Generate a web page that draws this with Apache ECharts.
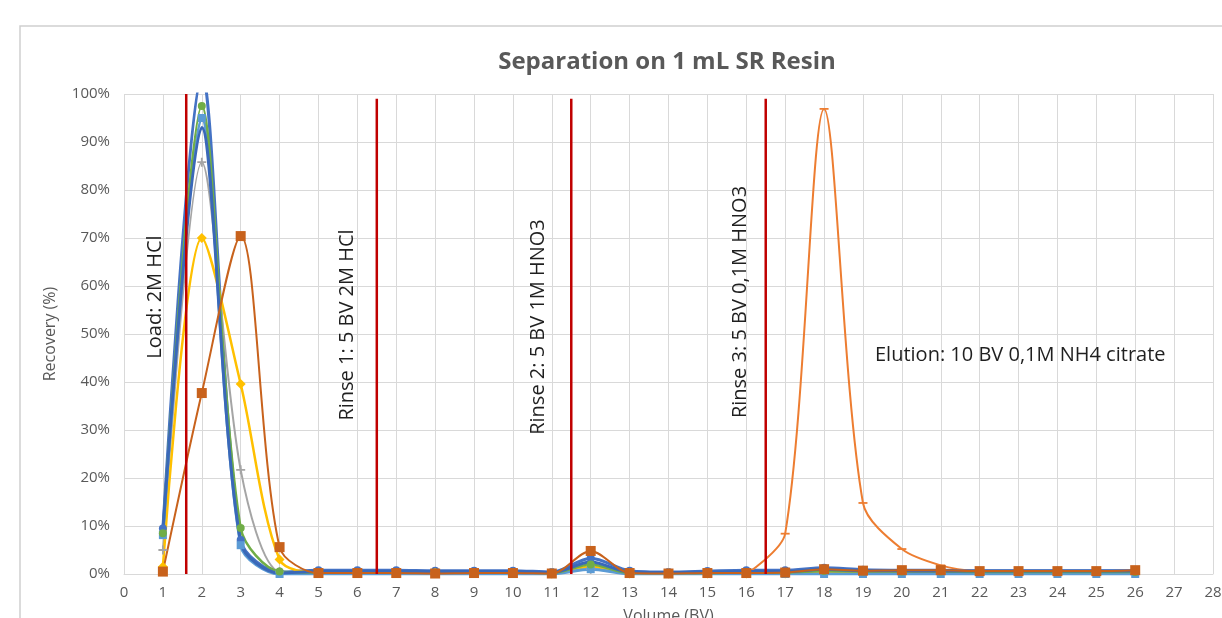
<!DOCTYPE html>
<html lang="en">
<head>
    <meta charset="UTF-8">
    <title>Separation on 1 mL SR Resin</title>
    <script src="https://cdn.jsdelivr.net/npm/echarts@6/dist/echarts.min.js"></script>
    <style>
        html, body { margin: 0; padding: 0; background: #fff; }
        #chart { width: 1222px; height: 618px; }
    </style>
</head>
<body>
    <div id="chart"></div>
    <script>
    // volume (BV) of each fraction
    var volume = [1, 2, 3, 4, 5, 6, 7, 8, 9, 10, 11, 12, 13, 14, 15, 16, 17, 18, 19, 20, 21, 22, 23, 24, 25, 26];

    // recovery (%) per element
    var blueA   = [9.5, 104, 7.1, 0.4, 0.8, 0.8, 0.8, 0.7, 0.7, 0.7, 0.4, 3.3, 0.7, 0.4, 0.6, 0.8, 0.8, 1.3, 0.9, 0.8, 0.8, 0.7, 0.7, 0.7, 0.7, 0.7];
    var elution = [null, null, null, null, null, null, null, null, null, null, null, null, null, null, null, 0, 8.4, 96.9, 14.8, 5.2, 1.8, 0.5, 0.3, 0.3, 0.3, 0.3];
    var grey    = [5, 85.8, 21.7, 0.5, 0.3, 0.3, 0.3, 0.3, 0.3, 0.3, 0.2, 1, 0.2, 0.2, 0.2, 0.2, 0.2, 0.4, 0.3, 0.3, 0.3, 0.3, 0.3, 0.3, 0.3, 0.3];
    var gold    = [1.5, 70, 39.6, 3, 0.2, 0.2, 0.2, 0.2, 0.2, 0.2, 0.1, 1.5, 0.1, 0.1, 0.1, 0.1, 0.1, 0.2, 0.2, 0.2, 0.2, 0.2, 0.2, 0.2, 0.2, 0.2];
    var lightBl = [8.1, 95, 6, 0, 0, 0, 0, 0, 0, 0, 0, 1, 0, 0, 0, 0, 0, 0, 0, 0, 0, 0, 0, 0, 0, 0];
    var green   = [8.5, 97.5, 9.6, 0.5, 0.3, 0.3, 0.3, 0.3, 0.3, 0.3, 0.2, 2, 0.2, 0.2, 0.2, 0.3, 0.3, 0.6, 0.5, 0.5, 0.5, 0.4, 0.4, 0.4, 0.4, 0.4];
    var blueB   = [9, 93, 6.5, 0.2, 0.5, 0.5, 0.5, 0.5, 0.5, 0.5, 0.3, 2.5, 0.4, 0.3, 0.4, 0.5, 0.5, 1, 0.7, 0.7, 0.6, 0.6, 0.6, 0.6, 0.6, 0.6];
    var brown   = [0.5, 37.7, 70.4, 5.6, 0.2, 0.2, 0.2, 0.1, 0.2, 0.2, 0.1, 4.8, 0.2, 0.1, 0.2, 0.2, 0.3, 1, 0.7, 0.8, 0.8, 0.6, 0.6, 0.6, 0.6, 0.8];

    // step boundaries (red lines)
    var stepX   = [1.6, 6.5, 11.5, 16.5];
    var stepTop = [100, 99, 99, 99];

    var yTicks = [0, 10, 20, 30, 40, 50, 60, 70, 80, 90, 100];

    function pairs(vals) {
        return volume.map(function (v, i) { return [v, vals[i]]; });
    }

    var plusSym = 'path://M4,0h2v4h4v2h-4v4h-2v-4h-4v-2h4z';
    var dashSym = 'path://M0,4h10v2h-10z';

    function curve(name, vals, color, symbol, size, width) {
        return {
            name: name,
            type: 'line',
            smooth: 0.3,
            data: pairs(vals),
            symbol: symbol,
            symbolSize: size,
            symbolKeepAspect: true,
            showSymbol: true,
            lineStyle: { color: color, width: width },
            itemStyle: { color: color },
            clip: true
        };
    }

    var series = [
        curve('blueA', blueA, '#4472C4', 'circle', 8, 3),
        curve('elution', elution, '#ED7D31', dashSym, 9, 2),
        curve('grey', grey, '#A5A5A5', plusSym, 9, 2),
        curve('gold', gold, '#FFC000', 'diamond', 10, 2.5),
        curve('lightBl', lightBl, '#5B9BD5', 'rect', 8, 3),
        curve('green', green, '#70AD47', 'circle', 8, 2.5),
        curve('blueB', blueB, '#3A68B8', 'none', 0, 3),
        curve('brown', brown, '#C8621C', 'rect', 10, 2)
    ];

    stepX.forEach(function (x, i) {
        series.push({
            type: 'line',
            data: [[x, 0], [x, stepTop[i]]],
            symbol: 'none',
            lineStyle: { color: '#C00000', width: 2.5 },
            z: 5,
            silent: true
        });
    });

    var labelFont = 'Open Sans';
    var noteStyle = { fill: '#1f1f1f', fontSize: 20, fontFamily: labelFont, align: 'center', verticalAlign: 'middle' };

    function note(text, x, y, rot) {
        return { type: 'text', x: x, y: y, rotation: rot, z: 10, style: Object.assign({ text: text }, noteStyle) };
    }

    var myChart = echarts.init(document.getElementById('chart'));
    var option = {
        animation: false,
        backgroundColor: '#fff',
        title: {
            text: 'Separation on 1 mL SR Resin',
            left: 662,
            textAlign: 'center',
            top: 45,
            textStyle: { color: '#595959', fontSize: 24, fontWeight: 'bold', fontFamily: labelFont }
        },
        grid: { left: 124, right: 9, top: 94, bottom: 44, outerBoundsMode: 'none', containLabel: false },
        xAxis: {
            type: 'value',
            min: 0, max: 28, interval: 1,
            name: 'Volume (BV)',
            nameLocation: 'middle',
            nameGap: 34,
            nameTextStyle: { color: '#595959', fontSize: 16, fontFamily: labelFont },
            axisLine: { show: true, lineStyle: { color: '#d9d9d9' } },
            axisTick: { show: false },
            axisLabel: { color: '#595959', fontSize: 15, fontFamily: labelFont, margin: 11 },
            splitLine: { show: true, lineStyle: { color: '#d9d9d9' } }
        },
        yAxis: {
            type: 'value',
            min: yTicks[0], max: yTicks[yTicks.length - 1], interval: 10,
            name: 'Recovery (%)',
            nameLocation: 'middle',
            nameGap: 66,
            nameTextStyle: { color: '#595959', fontSize: 16, fontFamily: labelFont },
            axisLine: { show: false },
            axisTick: { show: false },
            axisLabel: { color: '#595959', fontSize: 15, fontFamily: labelFont, formatter: '{value}%', margin: 14 },
            splitLine: { show: true, lineStyle: { color: '#d9d9d9' } }
        },
        graphic: [
            { type: 'rect', shape: { x: 20, y: 26, width: 1400, height: 800 }, style: { fill: null, stroke: '#cfcfcf', lineWidth: 1.5 }, z: -1 },
            note('Load: 2M HCl', 155, 297, Math.PI / 2),
            note('Rinse 1: 5 BV 2M HCl', 347, 325, Math.PI / 2),
            note('Rinse 2: 5 BV 1M HNO3', 538, 327, Math.PI / 2),
            note('Rinse 3: 5 BV 0,1M HNO3', 740, 302, Math.PI / 2),
            { type: 'text', x: 875, y: 355, z: 10, style: { text: 'Elution: 10 BV 0,1M NH4 citrate', fill: '#1f1f1f', fontSize: 20, fontFamily: labelFont, verticalAlign: 'middle' } }
        ],
        series: series
    };
    myChart.setOption(option);
    </script>
</body>
</html>
